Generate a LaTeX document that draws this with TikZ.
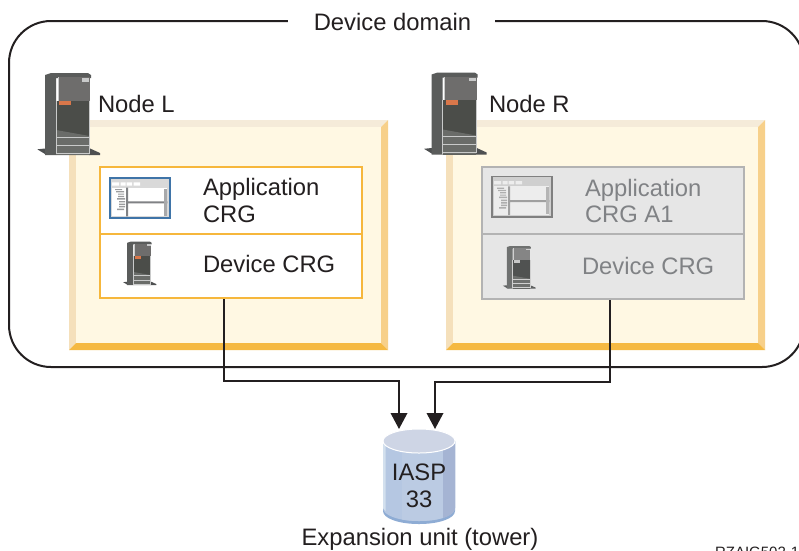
\documentclass[tikz,border=0pt]{standalone}
\usepackage{fontspec}
\setmainfont{Liberation Sans}
\usetikzlibrary{arrows.meta}
\definecolor{inkc}{HTML}{231F20}
\definecolor{facec}{HTML}{FFF8E3}
\definecolor{ptop}{HTML}{F5EBD9}
\definecolor{pleft}{HTML}{F5E0BB}
\definecolor{pright}{HTML}{F7D08A}
\definecolor{pbot}{HTML}{F5B942}
\definecolor{orangec}{HTML}{F6B73C}
\definecolor{greyfill}{HTML}{E6E6E6}
\definecolor{greyline}{HTML}{B3B3B3}
\definecolor{greytext}{HTML}{808285}
\definecolor{cylbot}{HTML}{8EACD4}
\definecolor{cylleft}{HTML}{D3E0EE}
\definecolor{cylbody}{HTML}{B5C7E2}
\definecolor{cylmid}{HTML}{BBCBE3}
\definecolor{cylright}{HTML}{A5B4D3}
\definecolor{cyltop}{HTML}{CED5E5}
\newcommand{\colorsdark}{%
  \definecolor{srvA}{HTML}{5A5C5B}\definecolor{srvB}{HTML}{6E6D6C}\definecolor{srvC}{HTML}{4E5051}%
  \definecolor{srvD}{HTML}{4B4D49}\definecolor{srvE}{HTML}{C9CACA}\definecolor{srvF}{HTML}{D9774A}\definecolor{srvG}{HTML}{6A6C69}}
\newcommand{\colorsgrey}{%
  \definecolor{srvA}{HTML}{6F7170}\definecolor{srvB}{HTML}{858585}\definecolor{srvC}{HTML}{5F6161}%
  \definecolor{srvD}{HTML}{505251}\definecolor{srvE}{HTML}{D0D0D0}\definecolor{srvF}{HTML}{C8C8C8}\definecolor{srvG}{HTML}{6E706E}}
\newcommand{\serverbody}[1]{%
  \fill[srvC] (-0.7,76.3) -- (7,75.5) -- (12,81.5) -- (7,81) -- cycle;
  \fill[srvC] (51,75) -- (62,80) -- (62,82) -- (51,82) -- cycle;
  \fill[srvA] (7,2) -- (13,0) -- (50,0) -- (53,2) -- (53,5) -- (18,5) -- (18,82) -- (7,82) -- cycle;
  \fill[srvB] (20,4) -- (52,4) -- (52,27.7) -- (20,27.7) -- cycle;
  \fill[srvD] (18,27.7) rectangle (51.5,82);
  \fill[srvG] (18,57) -- (51.5,63) -- (51.5,82) -- (18,82) -- cycle;
  \fill[srvE] (44,5) rectangle (51,8.5);
  \fill[srvF] (21.3,27.7) rectangle (33,32);
  \draw[srvE,line width=#1] (20,4.3) -- (20,27.7) (18,27.7) -- (18,81.3) (18,64.3) -- (51.5,64.3) (18,72) -- (51.5,72) (18,80.3) -- (51.5,80.3) (51.5,27.7) -- (51.5,80.3);
}
\tikzset{
  inktext/.style={text=inkc,font=\fontsize{23.8}{23.8}\selectfont,inner sep=0pt,outer sep=0pt},
  greytxt/.style={inktext,text=greytext},
  wire/.style={draw=inkc,line width=2pt,-{Triangle[length=16pt,width=16.5pt]}},
  crgorange/.style={draw=orangec,line width=2pt,fill=white,inner sep=0pt,outer sep=0pt,anchor=north west,minimum width=262pt},
  crggrey/.style={draw=greyline,line width=2pt,fill=greyfill,inner sep=0pt,outer sep=0pt,anchor=north west,minimum width=262pt},
  pics/server/.style={code={\serverbody{1pt}}},
  pics/miniserver/.style={code={\serverbody{0.6pt}}},
  pics/crgwin/.style={code={
    \fill[winF] (0,0) rectangle (62,42);
    \fill[winL] (1.7,1.7) rectangle (60.3,40.3);
    \fill[winW] (3,5.3) rectangle (10,8.7) (11.5,5.3) rectangle (16.5,8.7) (17.5,5.3) rectangle (23,8.7) (24.5,5.3) rectangle (31,8.7);
    \fill[winW] (3,10.7) rectangle (58.3,39.3);
    \fill[winM] (17,10.7) rectangle (19,39.3) (19,24.3) rectangle (58.3,26.3);
    \fill[winM!55!winL] (55,11.5) rectangle (58.3,38.5);
    \fill[winM!70!winL] (6,12) rectangle (13,13.2) (7,14.2) rectangle (15,15.4) (9,16.5) rectangle (15,17.7) (9,18.8) rectangle (15,20) (8,21) rectangle (16,22.5) (10,24) rectangle (16,25.4) (10,26.5) rectangle (16,28) (10,29) rectangle (16,30.3) (8,31.5) rectangle (15,33);
  }}
}
\begin{document}
\begin{tikzpicture}[x=1pt,y=-1pt]
\useasboundingbox (0,0) rectangle (799,550);
\fill[white] (0,0) rectangle (799,550);
% domain
\node[draw=inkc,line width=2pt,rounded corners=42pt,minimum width=795pt,minimum height=346pt,anchor=north west,inner sep=0pt,outer sep=0pt] (domain) at (9,21) {};
\node[fill=white,minimum width=207pt,minimum height=10pt,inner sep=0pt,anchor=center] (domgap) at (391.5,21) {};
\node[inktext,anchor=base] (domlabel) at (392.5,30) {Device domain};
% panels
\foreach \ox in {69,446}{
  \fill[ptop] (\ox,120) -- (\ox+319,120) -- (\ox+312,127) -- (\ox+7,127) -- cycle;
  \fill[pleft] (\ox,120) -- (\ox+7,127) -- (\ox+7,343) -- (\ox,350) -- cycle;
  \fill[pright] (\ox+319,120) -- (\ox+319,350) -- (\ox+312,343) -- (\ox+312,127) -- cycle;
  \fill[pbot] (\ox,350) -- (\ox+319,350) -- (\ox+312,343) -- (\ox+7,343) -- cycle;
  \fill[facec] (\ox+7,127) rectangle (\ox+312,343);
}
% CRG boxes
\node[crgorange,minimum height=67pt] (lapp) at (100,167) {};
\node[crgorange,minimum height=64pt] (ldev) at (100,234) {};
\node[crggrey,minimum height=67pt] (rapp) at (482,167) {};
\node[crggrey,minimum height=65pt] (rdev) at (482,234) {};
% servers
\begin{scope}
\colorsdark
\pic at (38,73) {server};
\pic at (424.7,72.5) {server};
\pic[scale=.53] at (123.5,241.7) {miniserver};
\end{scope}
\begin{scope}
\colorsgrey
\pic[scale=.52] at (503.3,246) {miniserver};
\end{scope}
% windows
\begin{scope}
\definecolor{winF}{HTML}{3F74A8}\definecolor{winL}{HTML}{D9D9D9}\definecolor{winW}{HTML}{FFFFFF}\definecolor{winM}{HTML}{808285}
\pic at (109,177) {crgwin};
\end{scope}
\begin{scope}
\definecolor{winF}{HTML}{808080}\definecolor{winL}{HTML}{CFCFCF}\definecolor{winW}{HTML}{EDEDED}\definecolor{winM}{HTML}{A0A0A0}
\pic at (491,175.7) {crgwin};
\end{scope}
% labels
\node[inktext,anchor=base west] (nodel) at (98,112) {Node L};
\node[inktext,anchor=base west] (noder) at (489,112) {Node R};
\node[inktext,anchor=base west] (lapp1) at (203,195) {Application};
\node[inktext,anchor=base west] (lapp2) at (203,222) {CRG};
\node[inktext,anchor=base west] (ldevt) at (203,272) {Device CRG};
\node[greytxt,anchor=base west] (rapp1) at (585,196) {Application};
\node[greytxt,anchor=base west] (rapp2) at (585,222) {CRG A1};
\node[greytxt,anchor=base west] (rdevt) at (582,274) {Device CRG};
% cylinder
\fill[cylbot] (383,441) -- (383,511) .. controls (383,518.5) and (399,524) .. (419,524) .. controls (439,524) and (455,518.5) .. (455,511) -- (455,441) -- cycle;
\fill[cylbody] (383,441) -- (383,508) .. controls (383,515.5) and (399,521) .. (419,521) .. controls (439,521) and (455,515.5) .. (455,508) -- (455,441) -- cycle;
\fill[cylmid] (402,441) -- (402,519.5) .. controls (407,520.5) and (413,521) .. (419,521) .. controls (428,521) and (436,520) .. (443,518) -- (443,441) -- cycle;
\fill[cylright] (443,441) -- (443,518) .. controls (450,516) and (455,512) .. (455,508) -- (455,441) -- cycle;
\fill[cylleft] (383,441) -- (383,508) -- (385.5,511) -- (385.5,441) -- cycle;
\filldraw[fill=cyltop,draw=white,line width=1pt] (419,441) ellipse [x radius=36,y radius=12];
\node[inktext,anchor=base] (iasp1) at (419,480) {IASP};
\node[inktext,anchor=base] (iasp2) at (419,507) {33};
\node[inktext,anchor=base] (tower) at (420,545) {Expansion unit (tower)};
\node[inktext,font=\fontsize{15}{15}\selectfont,anchor=base west] (figid) at (715,557) {RZAIG502-1};
% connectors
\coordinate (lout) at (224,299);
\coordinate (rout) at (610,300);
\coordinate (lbus) at (300,381);
\coordinate (rbus) at (500,382);
\coordinate (ltip) at (399,429);
\coordinate (rtip) at (435,429);
\draw[wire] (lout) |- (lbus) -| (ltip);
\draw[wire] (rout) |- (rbus) -| (rtip);
\end{tikzpicture}
\end{document}
